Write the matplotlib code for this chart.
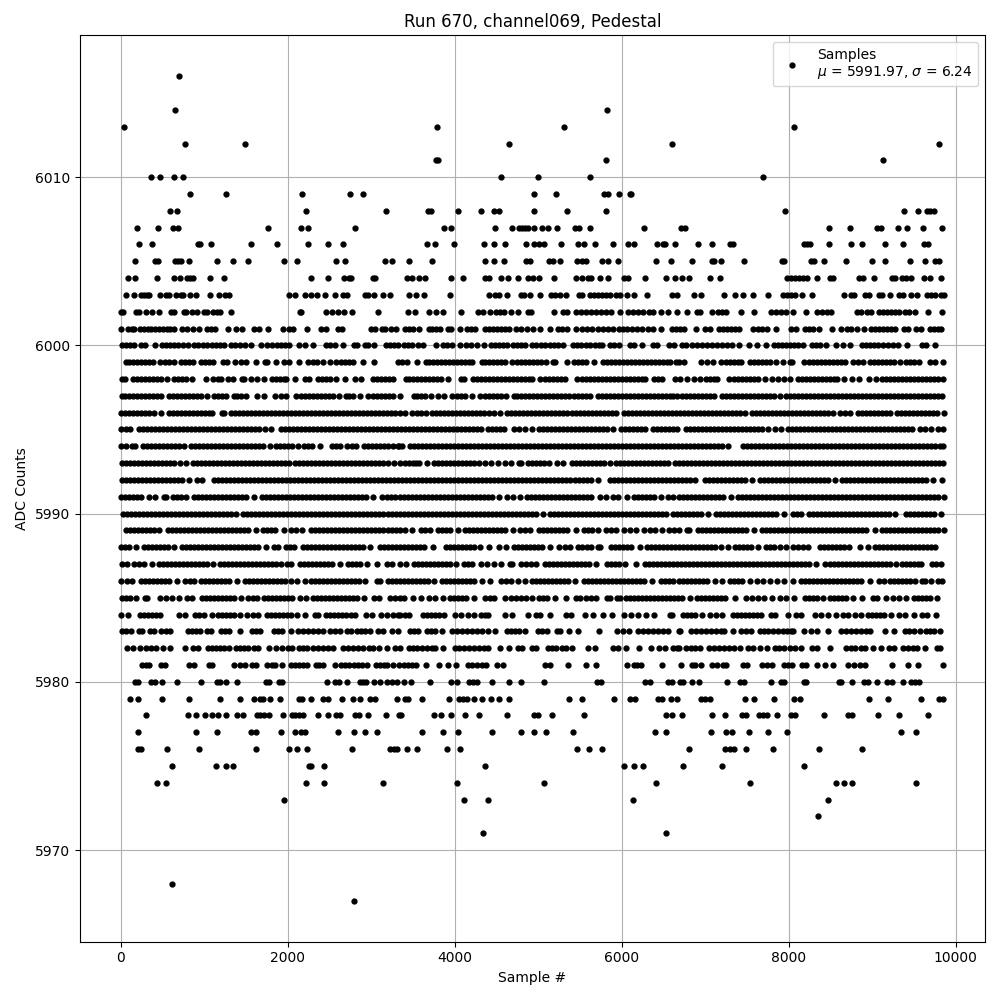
# /usr/bin/env python3

import matplotlib
matplotlib.use('Agg')
import matplotlib.pyplot as plt

# sample numbers, one list per ADC count
s6016 = [704]
s6014 = [656, 5820]
s6013 = [44, 3792, 5316, 8060]
s6012 = [776, 1484, 4656, 6600, 9800]
s6011 = [3780, 3804, 5808, 9128]
s6010 = [368, 476, 644, 752, 4560, 5004, 5616, 7688]
s6009 = [836, 1256, 2168, 2744, 2900, 4956, 5220, 5784, 5832, 5964, 6096, 6108]
s6008 = [596, 680, 2216, 3176, 3684, 3720, 4044, 4320, 4476, 4536, 4956, 5352, 5808, 7952, 9380, 9548, 9656, 9692,
         9740]
s6007 = [200, 452, 632, 692, 1760, 2156, 2240, 2804, 3876, 3960, 4488, 4692, 4776, 4812, 4848, 4884, 4956, 5052, 5124,
         5232, 5436, 5484, 5616, 6264, 6716, 6764, 8480, 8732, 9056, 9104, 9308, 9416, 9608, 9836]
s6006 = [224, 380, 932, 956, 1076, 1556, 1868, 2240, 2480, 2660, 3672, 3768, 3996, 4356, 4476, 4608, 4860, 4956, 5016,
         5076, 5280, 5472, 5544, 5676, 5892, 6080, 6144, 6420, 6492, 6516, 6636, 6920, 7088, 7304, 7340, 8180, 8216,
         8252, 8480, 8744, 8876, 9152, 9368, 9620, 9668]
s6005 = [176, 416, 452, 656, 692, 728, 824, 1148, 1340, 1520, 1952, 2108, 2576, 2684, 3164, 3248, 3456, 3732, 4368,
         4476, 4596, 4860, 4908, 5136, 5184, 5268, 5460, 5520, 5568, 5760, 5832, 5952, 6408, 6588, 6848, 7088, 7112,
         7196, 7472, 7916, 7940, 8264, 8300, 8420, 8684, 8996, 9152, 9452, 9632, 9752, 9800]
s6004 = [92, 176, 440, 644, 716, 800, 836, 872, 1064, 1232, 2276, 2480, 2672, 2732, 2756, 3020, 3044, 3432, 3492, 3576,
         3648, 3960, 4104, 4368, 4416, 4560, 4644, 4764, 4884, 4944, 5016, 5196, 5448, 5520, 5592, 5628, 5736, 5832,
         6024, 6072, 6276, 6528, 6644, 6728, 6812, 7064, 7184, 7976, 8024, 8072, 8120, 8168, 8216, 8336, 8492, 8528,
         8840, 8888, 9020, 9236, 9272, 9356, 9404, 9464, 9620, 9692, 9824]
s6003 = [64, 164, 248, 284, 320, 344, 476, 548, 584, 668, 728, 752, 836, 908, 1064, 1172, 1244, 1292, 2012, 2084, 2204,
         2276, 2348, 2444, 2564, 2660, 2708, 2924, 2960, 3032, 3140, 3224, 3456, 3540, 3636, 3948, 4416, 4488, 4536,
         4632, 4800, 4836, 4908, 5028, 5160, 5208, 5268, 5340, 5484, 5520, 5616, 5664, 5712, 5760, 5808, 5856, 5928,
         5976, 6060, 6144, 6300, 6608, 6668, 6872, 6956, 7232, 7364, 7460, 7580, 7748, 7928, 7976, 8024, 8072, 8156,
         8276, 8660, 8744, 8780, 8912, 8960, 9080, 9116, 9212, 9320, 9368, 9464, 9536, 9656, 9704, 9752, 9824, 9860]
s6002 = [0, 32, 188, 224, 308, 380, 464, 608, 644, 764, 788, 860, 920, 992, 1028, 1100, 1148, 1184, 1316, 2144, 2156,
         2456, 2528, 2600, 2672, 2768, 3080, 3444, 3528, 3696, 3780, 3864, 4080, 4284, 4344, 4428, 4500, 4548, 4596,
         4680, 4764, 4884, 4920, 5196, 5304, 5352, 5448, 5512, 5572, 5632, 5692, 5752, 5812, 5872, 5976, 6072, 6132,
         6192, 6252, 6324, 6372, 6468, 6552, 6668, 6788, 6908, 6944, 7088, 7160, 7208, 7256, 7436, 7592, 7784, 7844,
         7904, 7964, 8048, 8204, 8336, 8396, 8456, 8504, 8816, 8864, 8936, 8984, 9080, 9128, 9176, 9224, 9272, 9320,
         9392, 9440, 9512, 9668, 9836]
s6001 = [8, 92, 140, 164, 236, 284, 332, 368, 416, 464, 512, 560, 596, 644, 740, 800, 872, 944, 1028, 1076, 1124, 1280,
         1376, 1448, 1592, 1652, 1760, 1940, 2012, 2060, 2228, 2396, 2456, 2600, 2648, 2996, 3044, 3128, 3164, 3236,
         3300, 3408, 3456, 3504, 3576, 3696, 3732, 3780, 3828, 3924, 3960, 4068, 4152, 4200, 4248, 4368, 4416, 4464,
         4512, 4560, 4608, 4656, 4740, 4800, 4872, 4944, 5028, 5148, 5244, 5292, 5352, 5448, 5520, 5580, 5640, 5712,
         5772, 5832, 5892, 5964, 6012, 6060, 6120, 6180, 6240, 6312, 6372, 6468, 6608, 6656, 6704, 6752, 6896, 7004,
         7064, 7172, 7220, 7268, 7316, 7364, 7412, 7580, 7628, 7676, 7736, 7844, 8024, 8084, 8192, 8240, 8288, 8360,
         8516, 8624, 8696, 8744, 8816, 8904, 8984, 9032, 9080, 9128, 9176, 9224, 9272, 9380, 9428, 9524, 9584, 9692,
         9740, 9788, 9824]
s6000 = [20, 68, 116, 164, 248, 296, 416, 500, 548, 596, 644, 692, 752, 812, 884, 932, 980, 1028, 1088, 1136, 1184,
         1232, 1316, 1364, 1424, 1484, 1556, 1676, 1748, 1808, 1868, 1916, 1964, 2012, 2132, 2204, 2300, 2456, 2504,
         2564, 2660, 2792, 2828, 2924, 2960, 3032, 3176, 3224, 3272, 3320, 3396, 3444, 3492, 3564, 3624, 3780, 3864,
         3912, 3972, 4068, 4140, 4200, 4272, 4356, 4440, 4488, 4536, 4584, 4632, 4704, 4752, 4800, 4848, 4932, 4980,
         5040, 5088, 5148, 5196, 5244, 5304, 5412, 5460, 5508, 5568, 5616, 5676, 5724, 5760, 5856, 5904, 5964, 6096,
         6144, 6240, 6372, 6420, 6572, 6632, 6728, 6776, 6848, 6908, 6968, 7028, 7088, 7148, 7208, 7268, 7328, 7412,
         7532, 7616, 7724, 7820, 7868, 7916, 7964, 8012, 8060, 8108, 8168, 8276, 8324, 8372, 8444, 8564, 8648, 8732,
         8876, 8924, 8972, 9020, 9068, 9128, 9188, 9248, 9308, 9416, 9596, 9644, 9752]
s5999 = [60, 96, 144, 192, 240, 288, 336, 384, 476, 528, 576, 644, 724, 768, 816, 864, 968, 1008, 1056, 1104, 1228,
         1272, 1372, 1440, 1504, 1616, 1724, 1752, 1856, 1960, 2020, 2140, 2248, 2304, 2352, 2424, 2504, 2584, 2640,
         2688, 2736, 2784, 2900, 3032, 3320, 3370, 3424, 3548, 3656, 3696, 3744, 3792, 3840, 3888, 3936, 3984, 4032,
         4080, 4128, 4176, 4208, 4328, 4368, 4416, 4464, 4512, 4560, 4608, 4688, 4752, 4800, 4848, 4896, 4944, 4992,
         5040, 5096, 5180, 5204, 5344, 5424, 5472, 5520, 5576, 5672, 5776, 5824, 5872, 5920, 5968, 6016, 6064, 6112,
         6160, 6208, 6256, 6304, 6352, 6400, 6448, 6496, 6544, 6584, 6652, 6684, 6752, 6952, 7024, 7100, 7192, 7248,
         7296, 7344, 7392, 7432, 7540, 7584, 7632, 7680, 7728, 7776, 7852, 7928, 8012, 8036, 8188, 8240, 8288, 8336,
         8384, 8432, 8480, 8528, 8576, 8624, 8672, 8776, 8835, 8892, 8980, 9024, 9072, 9120, 9168, 9216, 9264, 9332,
         9412, 9456, 9504, 9564, 9692, 9756, 9848]
s5998 = [16, 48, 148, 192, 240, 288, 336, 384, 432, 480, 556, 640, 688, 736, 784, 856, 1020, 1108, 1160, 1204, 1288,
         1344, 1448, 1480, 1564, 1632, 1712, 1808, 1856, 1904, 1952, 1984, 2084, 2208, 2256, 2368, 2416, 2464, 2512,
         2584, 2684, 2812, 2880, 3024, 3072, 3120, 3168, 3216, 3256, 3416, 3456, 3504, 3552, 3600, 3648, 3696, 3744,
         3792, 3836, 3924, 4076, 4112, 4220, 4272, 4320, 4368, 4416, 4464, 4512, 4560, 4608, 4656, 4704, 4752, 4800,
         4848, 4896, 4928, 5024, 5088, 5136, 5184, 5232, 5280, 5320, 5460, 5520, 5568, 5616, 5664, 5712, 5760, 5808,
         5856, 5904, 5952, 6000, 6048, 6096, 6144, 6192, 6240, 6276, 6392, 6440, 6484, 6640, 6700, 6788, 6872, 6944,
         7008, 7056, 7104, 7144, 7288, 7344, 7392, 7440, 7488, 7536, 7584, 7632, 7712, 7804, 7872, 7940, 8016, 8116,
         8160, 8208, 8256, 8304, 8352, 8400, 8448, 8496, 8544, 8584, 8668, 8764, 8844, 8960, 9052, 9120, 9168, 9216,
         9264, 9312, 9360, 9408, 9456, 9504, 9552, 9600, 9648, 9696, 9744, 9792, 9852]
s5997 = [16, 48, 96, 144, 192, 240, 288, 336, 384, 432, 484, 576, 624, 672, 720, 768, 816, 864, 912, 960, 1036, 1120,
         1168, 1216, 1256, 1352, 1392, 1440, 1496, 1636, 1712, 1848, 1920, 1984, 2100, 2160, 2208, 2256, 2304, 2352,
         2400, 2448, 2496, 2544, 2612, 2696, 2736, 2784, 2864, 2964, 3024, 3072, 3120, 3168, 3216, 3264, 3340, 3512,
         3552, 3600, 3648, 3716, 3800, 3872, 3968, 4032, 4080, 4128, 4208, 4304, 4368, 4416, 4464, 4512, 4560, 4616,
         4712, 4752, 4800, 4848, 4896, 4944, 4992, 5040, 5088, 5136, 5184, 5232, 5280, 5328, 5376, 5424, 5472, 5520,
         5568, 5616, 5720, 5760, 5808, 5856, 5904, 5952, 6000, 6048, 6096, 6144, 6192, 6240, 6288, 6336, 6384, 6432,
         6480, 6528, 6576, 6616, 6668, 6720, 6768, 6816, 6864, 6912, 6960, 7008, 7056, 7112, 7204, 7248, 7296, 7344,
         7392, 7440, 7488, 7536, 7584, 7632, 7680, 7728, 7776, 7820, 7896, 7972, 8016, 8064, 8112, 8160, 8208, 8256,
         8304, 8352, 8400, 8448, 8496, 8544, 8592, 8640, 8688, 8736, 8784, 8832, 8880, 8928, 8976, 9024, 9072, 9120,
         9168, 9216, 9264, 9312, 9360, 9408, 9456, 9504, 9552, 9600, 9648, 9696, 9744, 9792, 9836]
s5996 = [4, 48, 96, 144, 192, 240, 288, 336, 404, 480, 576, 624, 672, 720, 768, 816, 864, 912, 960, 1008, 1056, 1096,
         1208, 1232, 1316, 1364, 1412, 1460, 1508, 1556, 1604, 1652, 1700, 1748, 1796, 1844, 1892, 1940, 1988, 2036,
         2084, 2132, 2180, 2228, 2276, 2324, 2372, 2420, 2468, 2516, 2564, 2612, 2660, 2708, 2756, 2804, 2852, 2900,
         2948, 2996, 3044, 3092, 3140, 3188, 3236, 3284, 3340, 3400, 3488, 3552, 3600, 3656, 3728, 3776, 3824, 3872,
         3920, 3968, 4016, 4064, 4112, 4160, 4208, 4256, 4304, 4352, 4416, 4476, 4548, 4632, 4680, 4728, 4776, 4824,
         4872, 4920, 4968, 5016, 5064, 5112, 5160, 5208, 5256, 5304, 5352, 5400, 5448, 5496, 5544, 5592, 5640, 5688,
         5736, 5784, 5832, 5880, 5936, 6024, 6072, 6120, 6168, 6216, 6264, 6312, 6360, 6408, 6456, 6504, 6552, 6600,
         6648, 6696, 6744, 6792, 6840, 6888, 6936, 6984, 7032, 7080, 7128, 7176, 7224, 7272, 7320, 7368, 7416, 7484,
         7564, 7612, 7660, 7708, 7756, 7804, 7852, 7900, 7948, 7996, 8044, 8092, 8140, 8188, 8236, 8284, 8332, 8380,
         8428, 8476, 8532, 8620, 8680, 8740, 8828, 8876, 8924, 8972, 9020, 9068, 9116, 9164, 9220, 9304, 9352, 9400,
         9448, 9496, 9544, 9592, 9640, 9688, 9736, 9784, 9860]
s5995 = [4, 60, 112, 220, 268, 316, 364, 412, 460, 508, 556, 604, 652, 700, 748, 796, 844, 892, 940, 988, 1036, 1084,
         1132, 1180, 1228, 1276, 1324, 1372, 1420, 1468, 1516, 1564, 1612, 1660, 1724, 1804, 1916, 1964, 2012, 2060,
         2108, 2156, 2204, 2252, 2300, 2348, 2396, 2444, 2492, 2540, 2588, 2636, 2684, 2732, 2780, 2828, 2876, 2924,
         2972, 3020, 3068, 3116, 3164, 3212, 3260, 3308, 3356, 3404, 3452, 3500, 3548, 3596, 3644, 3692, 3740, 3788,
         3836, 3884, 3932, 3980, 4028, 4076, 4124, 4172, 4220, 4268, 4316, 4400, 4448, 4496, 4544, 4592, 4712, 4776,
         4848, 4928, 5012, 5060, 5108, 5156, 5204, 5252, 5300, 5348, 5396, 5444, 5492, 5540, 5588, 5636, 5684, 5732,
         5780, 5828, 5896, 5988, 6036, 6084, 6132, 6180, 6228, 6276, 6380, 6428, 6476, 6524, 6572, 6620, 6660, 6772,
         6820, 6868, 6916, 6964, 7012, 7060, 7108, 7156, 7204, 7252, 7300, 7348, 7396, 7444, 7492, 7540, 7588, 7636,
         7684, 7752, 7840, 7908, 7996, 8044, 8092, 8140, 8188, 8236, 8284, 8332, 8380, 8428, 8476, 8524, 8572, 8620,
         8668, 8716, 8764, 8812, 8860, 8908, 8956, 9004, 9052, 9100, 9148, 9196, 9244, 9292, 9340, 9388, 9436, 9484,
         9580, 9632, 9712, 9796, 9852]
s5994 = [4, 68, 132, 172, 268, 316, 364, 412, 460, 508, 556, 604, 652, 700, 764, 844, 892, 940, 988, 1036, 1084, 1132,
         1180, 1228, 1276, 1324, 1372, 1420, 1468, 1516, 1564, 1612, 1660, 1708, 1784, 1864, 1912, 1960, 2008, 2056,
         2120, 2200, 2248, 2296, 2384, 2536, 2580, 2624, 2716, 2770, 2824, 2916, 2964, 3012, 3060, 3108, 3156, 3204,
         3264, 3320, 3336, 3372, 3460, 3508, 3556, 3604, 3652, 3700, 3748, 3796, 3844, 3892, 3940, 3988, 4036, 4084,
         4132, 4180, 4228, 4276, 4324, 4372, 4420, 4468, 4516, 4564, 4612, 4660, 4708, 4756, 4804, 4852, 4900, 4948,
         4996, 5044, 5092, 5140, 5188, 5236, 5284, 5332, 5380, 5428, 5476, 5524, 5572, 5620, 5668, 5716, 5764, 5812,
         5860, 5908, 5956, 6004, 6052, 6100, 6148, 6196, 6244, 6292, 6340, 6388, 6436, 6484, 6532, 6580, 6628, 6676,
         6724, 6772, 6820, 6868, 6916, 6964, 7012, 7060, 7108, 7156, 7204, 7280, 7456, 7504, 7552, 7600, 7648, 7696,
         7744, 7792, 7840, 7888, 7936, 7984, 8032, 8080, 8128, 8176, 8224, 8272, 8320, 8368, 8416, 8464, 8512, 8560,
         8608, 8656, 8704, 8752, 8800, 8848, 8896, 8944, 8992, 9040, 9088, 9136, 9184, 9232, 9280, 9328, 9376, 9424,
         9472, 9520, 9568, 9616, 9664, 9712, 9760, 9808, 9852]
s5993 = [16, 64, 112, 160, 208, 256, 304, 352, 400, 448, 496, 544, 592, 640, 712, 788, 868, 916, 964, 1012, 1060, 1108,
         1156, 1204, 1252, 1300, 1348, 1396, 1444, 1492, 1540, 1588, 1636, 1684, 1732, 1780, 1828, 1876, 1924, 1972,
         2016, 2092, 2140, 2188, 2236, 2284, 2332, 2380, 2428, 2476, 2524, 2572, 2620, 2668, 2716, 2764, 2812, 2860,
         2908, 2956, 3004, 3052, 3100, 3148, 3196, 3272, 3344, 3400, 3448, 3496, 3540, 3576, 3664, 3748, 3796, 3844,
         3892, 3940, 3988, 4036, 4084, 4132, 4180, 4228, 4296, 4364, 4432, 4520, 4600, 4676, 4768, 4796, 4880, 4928,
         4976, 5024, 5072, 5136, 5228, 5296, 5408, 5456, 5504, 5552, 5600, 5648, 5696, 5744, 5792, 5856, 5936, 5984,
         6032, 6080, 6128, 6176, 6224, 6272, 6320, 6368, 6416, 6464, 6512, 6560, 6636, 6684, 6732, 6780, 6828, 6876,
         6924, 6972, 7020, 7068, 7116, 7164, 7212, 7260, 7308, 7356, 7404, 7452, 7500, 7548, 7596, 7644, 7692, 7740,
         7788, 7836, 7884, 7932, 7980, 8028, 8076, 8124, 8172, 8220, 8268, 8316, 8364, 8412, 8460, 8508, 8556, 8604,
         8652, 8700, 8748, 8796, 8844, 8892, 8940, 8988, 9036, 9084, 9132, 9180, 9228, 9276, 9324, 9372, 9420, 9468,
         9516, 9564, 9612, 9660, 9708, 9756, 9804, 9844]
s5992 = [16, 64, 112, 160, 208, 256, 304, 352, 400, 448, 496, 544, 592, 640, 688, 736, 824, 920, 976, 1116, 1164, 1212,
         1260, 1308, 1356, 1404, 1452, 1500, 1548, 1596, 1644, 1692, 1740, 1788, 1836, 1884, 1932, 1980, 2028, 2076,
         2124, 2172, 2220, 2268, 2316, 2364, 2412, 2460, 2508, 2556, 2604, 2652, 2700, 2748, 2796, 2844, 2892, 2940,
         2988, 3036, 3084, 3132, 3180, 3228, 3276, 3324, 3372, 3420, 3468, 3516, 3564, 3612, 3660, 3708, 3756, 3804,
         3852, 3900, 3948, 3996, 4044, 4092, 4140, 4188, 4236, 4284, 4332, 4380, 4428, 4476, 4524, 4572, 4620, 4668,
         4716, 4764, 4812, 4860, 4908, 4956, 5004, 5052, 5100, 5148, 5196, 5244, 5292, 5340, 5388, 5436, 5484, 5532,
         5580, 5628, 5716, 5860, 5908, 5956, 6004, 6052, 6100, 6148, 6196, 6244, 6292, 6340, 6388, 6436, 6484, 6532,
         6580, 6628, 6676, 6724, 6772, 6820, 6880, 7004, 7052, 7100, 7148, 7196, 7244, 7292, 7340, 7388, 7436, 7484,
         7564, 7652, 7700, 7748, 7796, 7844, 7892, 7940, 7988, 8036, 8084, 8132, 8180, 8228, 8276, 8324, 8372, 8420,
         8468, 8552, 8644, 8692, 8740, 8788, 8836, 8884, 8932, 8980, 9028, 9076, 9124, 9172, 9220, 9268, 9316, 9364,
         9412, 9460, 9508, 9556, 9604, 9652, 9732, 9840]
s5991 = [4, 52, 100, 148, 196, 244, 344, 416, 520, 544, 628, 676, 724, 784, 876, 924, 972, 1020, 1068, 1116, 1164,
         1212, 1260, 1308, 1356, 1404, 1452, 1504, 1592, 1696, 1744, 1792, 1840, 1888, 1936, 1984, 2032, 2080, 2128,
         2176, 2224, 2272, 2320, 2368, 2416, 2464, 2512, 2560, 2608, 2656, 2704, 2752, 2800, 2848, 2896, 2944, 3024,
         3136, 3184, 3232, 3280, 3340, 3388, 3436, 3484, 3532, 3580, 3628, 3676, 3724, 3772, 3820, 3868, 3916, 3964,
         4012, 4060, 4108, 4156, 4204, 4252, 4300, 4348, 4396, 4444, 4536, 4628, 4700, 4784, 4868, 4916, 4964, 5012,
         5060, 5108, 5156, 5204, 5252, 5300, 5348, 5396, 5444, 5492, 5540, 5588, 5636, 5736, 5812, 5892, 5960, 6064,
         6152, 6200, 6248, 6296, 6344, 6392, 6476, 6560, 6620, 6692, 6740, 6788, 6836, 6884, 6932, 6980, 7028, 7076,
         7124, 7172, 7220, 7312, 7396, 7444, 7492, 7540, 7588, 7636, 7684, 7732, 7780, 7828, 7876, 7924, 7972, 8020,
         8068, 8116, 8164, 8212, 8260, 8308, 8356, 8404, 8452, 8500, 8548, 8596, 8644, 8692, 8740, 8788, 8836, 8884,
         8932, 8980, 9028, 9076, 9124, 9172, 9220, 9268, 9316, 9364, 9412, 9460, 9508, 9556, 9604, 9652, 9700, 9748,
         9796, 9860]
s5990 = [28, 76, 124, 172, 220, 268, 316, 364, 412, 460, 508, 556, 604, 652, 700, 748, 796, 844, 892, 940, 988, 1036,
         1084, 1132, 1180, 1228, 1276, 1324, 1384, 1468, 1516, 1564, 1612, 1660, 1708, 1756, 1804, 1852, 1900, 1948,
         1996, 2044, 2092, 2140, 2188, 2236, 2284, 2332, 2380, 2428, 2476, 2524, 2572, 2620, 2668, 2716, 2764, 2812,
         2860, 2908, 2956, 3004, 3052, 3100, 3148, 3196, 3244, 3292, 3340, 3388, 3436, 3484, 3532, 3580, 3628, 3676,
         3724, 3772, 3820, 3868, 3916, 3964, 4012, 4060, 4108, 4156, 4204, 4252, 4300, 4348, 4396, 4444, 4492, 4540,
         4588, 4636, 4684, 4732, 4780, 4828, 4876, 4924, 4972, 5056, 5144, 5192, 5240, 5288, 5336, 5384, 5432, 5480,
         5528, 5576, 5624, 5672, 5720, 5768, 5816, 5864, 5912, 5960, 6008, 6056, 6104, 6152, 6200, 6248, 6296, 6344,
         6392, 6440, 6488, 6536, 6620, 6668, 6716, 6764, 6812, 6860, 6908, 6956, 7040, 7132, 7180, 7228, 7276, 7324,
         7372, 7420, 7468, 7516, 7564, 7612, 7660, 7708, 7756, 7804, 7852, 7948, 8052, 8100, 8152, 8244, 8292, 8340,
         8388, 8436, 8484, 8532, 8580, 8628, 8676, 8724, 8772, 8820, 8868, 8916, 8964, 9012, 9060, 9108, 9156, 9204,
         9272, 9412, 9460, 9508, 9556, 9604, 9652, 9700, 9748, 9820]
s5989 = [64, 112, 160, 208, 256, 304, 352, 400, 464, 568, 616, 664, 712, 760, 808, 856, 904, 952, 1000, 1048, 1096,
         1144, 1192, 1240, 1288, 1336, 1384, 1432, 1480, 1528, 1616, 1708, 1756, 1804, 1852, 1952, 2036, 2100, 2168,
         2284, 2332, 2380, 2428, 2476, 2524, 2572, 2620, 2668, 2716, 2764, 2812, 2860, 2908, 2956, 3004, 3052, 3100,
         3148, 3196, 3244, 3292, 3340, 3400, 3488, 3596, 3650, 3704, 3800, 3848, 3896, 3944, 4040, 4124, 4172, 4220,
         4268, 4316, 4364, 4412, 4460, 4508, 4556, 4604, 4704, 4784, 4840, 4904, 5012, 5060, 5108, 5156, 5204, 5252,
         5300, 5348, 5448, 5552, 5600, 5648, 5720, 5816, 5870, 5928, 6032, 6100, 6168, 6272, 6340, 6400, 6480, 6568,
         6630, 6692, 6784, 6808, 6916, 6964, 7012, 7060, 7108, 7156, 7204, 7252, 7300, 7348, 7396, 7444, 7492, 7588,
         7684, 7732, 7780, 7828, 7876, 7924, 7972, 8020, 8068, 8116, 8164, 8212, 8260, 8308, 8356, 8404, 8452, 8500,
         8548, 8596, 8644, 8692, 8740, 8788, 8836, 8884, 8932, 9032, 9124, 9172, 9220, 9268, 9316, 9364, 9412, 9460,
         9508, 9556, 9604, 9652, 9700, 9748, 9796, 9860]
s5988 = [4, 52, 100, 184, 284, 332, 380, 428, 476, 524, 572, 640, 736, 784, 832, 880, 928, 976, 1024, 1072, 1120, 1168,
         1216, 1264, 1312, 1360, 1408, 1456, 1504, 1552, 1600, 1648, 1744, 1840, 1888, 1976, 2030, 2072, 2188, 2236,
         2284, 2332, 2380, 2428, 2476, 2524, 2572, 2620, 2668, 2716, 2764, 2812, 2860, 2908, 2984, 3104, 3152, 3200,
         3248, 3296, 3340, 3388, 3436, 3484, 3532, 3580, 3628, 3740, 3892, 3940, 3988, 4036, 4084, 4132, 4180, 4228,
         4308, 4416, 4532, 4616, 4712, 4760, 4808, 4856, 4904, 4952, 5000, 5048, 5144, 5252, 5320, 5384, 5472, 5530,
         5590, 5636, 5720, 5744, 5876, 5924, 5972, 6020, 6068, 6116, 6216, 6308, 6356, 6404, 6452, 6500, 6548, 6596,
         6644, 6692, 6740, 6788, 6836, 6884, 6932, 6980, 7028, 7076, 7124, 7192, 7280, 7364, 7412, 7460, 7508, 7556,
         7636, 7724, 7772, 7820, 7892, 7968, 8048, 8110, 8170, 8236, 8380, 8428, 8476, 8524, 8572, 8620, 8668, 8728,
         8852, 8948, 9040, 9088, 9136, 9184, 9232, 9280, 9328, 9376, 9424, 9472, 9520, 9568, 9616, 9664, 9712, 9760]
s5987 = [16, 72, 160, 220, 280, 372, 460, 508, 556, 604, 652, 700, 748, 796, 844, 892, 940, 988, 1036, 1104, 1192,
         1240, 1288, 1336, 1384, 1432, 1480, 1528, 1576, 1624, 1672, 1720, 1768, 1816, 1864, 1924, 1988, 2044, 2148,
         2196, 2244, 2292, 2340, 2388, 2436, 2484, 2532, 2624, 2720, 2768, 2816, 2864, 2956, 3068, 3184, 3244, 3340,
         3416, 3512, 3560, 3608, 3656, 3704, 3752, 3800, 3848, 3896, 3944, 4016, 4112, 4160, 4208, 4316, 4390, 4472,
         4560, 4664, 4688, 4796, 4860, 4920, 4976, 5084, 5132, 5180, 5228, 5276, 5324, 5372, 5420, 5468, 5516, 5564,
         5612, 5696, 5828, 5876, 5924, 5972, 6044, 6168, 6276, 6324, 6372, 6420, 6468, 6516, 6564, 6612, 6660, 6708,
         6756, 6804, 6852, 6900, 6948, 6996, 7044, 7092, 7140, 7188, 7236, 7284, 7332, 7380, 7428, 7476, 7524, 7572,
         7620, 7668, 7716, 7764, 7812, 7860, 7908, 7956, 8004, 8052, 8100, 8148, 8196, 8244, 8324, 8432, 8492, 8540,
         8588, 8636, 8684, 8732, 8780, 8828, 8876, 8924, 8972, 9020, 9068, 9116, 9164, 9212, 9284, 9364, 9412, 9460,
         9508, 9556, 9592, 9716, 9770, 9820]
s5986 = [4, 70, 136, 244, 292, 340, 388, 436, 484, 532, 580, 676, 772, 830, 880, 964, 1012, 1060, 1108, 1156, 1204,
         1252, 1300, 1396, 1492, 1540, 1588, 1636, 1684, 1732, 1780, 1828, 1876, 1924, 1972, 2036, 2108, 2204, 2284,
         2332, 2380, 2428, 2476, 2524, 2572, 2620, 2668, 2716, 2764, 2812, 2860, 2932, 3076, 3112, 3196, 3244, 3292,
         3340, 3388, 3436, 3484, 3532, 3580, 3628, 3676, 3752, 3848, 3896, 3944, 3992, 4040, 4088, 4136, 4184, 4232,
         4328, 4428, 4560, 4620, 4680, 4756, 4844, 4928, 4976, 5024, 5072, 5120, 5168, 5216, 5264, 5312, 5360, 5436,
         5552, 5600, 5648, 5696, 5744, 5792, 5840, 5888, 5936, 5984, 6032, 6080, 6128, 6176, 6224, 6272, 6368, 6476,
         6524, 6572, 6620, 6692, 6740, 6788, 6836, 6884, 6932, 6980, 7028, 7124, 7208, 7300, 7348, 7396, 7444, 7540,
         7616, 7696, 7780, 7860, 7940, 8052, 8152, 8200, 8248, 8296, 8344, 8392, 8440, 8488, 8536, 8584, 8632, 8680,
         8728, 8776, 8824, 8872, 8972, 9088, 9140, 9220, 9268, 9316, 9364, 9412, 9460, 9520, 9596, 9632, 9704, 9788,
         9836]
s5985 = [16, 64, 112, 184, 292, 316, 472, 544, 620, 700, 796, 856, 976, 1024, 1072, 1120, 1168, 1216, 1264, 1312, 1360,
         1444, 1528, 1580, 1636, 1720, 1768, 1816, 1864, 1912, 1960, 2008, 2056, 2144, 2216, 2308, 2356, 2404, 2452,
         2500, 2548, 2596, 2644, 2692, 2740, 2788, 2836, 2912, 3040, 3096, 3228, 3290, 3340, 3392, 3500, 3596, 3692,
         3770, 3856, 3944, 3992, 4040, 4088, 4136, 4236, 4364, 4420, 4472, 4604, 4676, 4732, 4796, 4852, 4932, 5012,
         5060, 5108, 5204, 5336, 5456, 5496, 5576, 5630, 5688, 5828, 5864, 5948, 5976, 6056, 6104, 6152, 6200, 6248,
         6296, 6344, 6392, 6440, 6488, 6536, 6584, 6632, 6680, 6728, 6820, 6904, 6952, 7000, 7048, 7096, 7144, 7192,
         7240, 7360, 7492, 7560, 7630, 7708, 7804, 7892, 7972, 8068, 8200, 8248, 8296, 8344, 8416, 8500, 8548, 8596,
         8644, 8692, 8776, 8876, 9016, 9060, 9172, 9252, 9320, 9412, 9508, 9556, 9604, 9652, 9700, 9784]
s5984 = [8, 92, 232, 280, 328, 376, 424, 472, 700, 772, 888, 944, 1000, 1088, 1168, 1216, 1264, 1312, 1360, 1432, 1516,
         1580, 1648, 1756, 1804, 1852, 1900, 1948, 1996, 2044, 2116, 2212, 2332, 2368, 2464, 2512, 2560, 2608, 2656,
         2704, 2764, 2812, 2944, 3016, 3124, 3190, 3264, 3320, 3344, 3400, 3452, 3616, 3664, 3712, 3760, 3808, 3872,
         4004, 4076, 4164, 4236, 4316, 4360, 4400, 4604, 4688, 4880, 4976, 5024, 5148, 5336, 5396, 5556, 5652, 5772,
         5880, 6032, 6116, 6192, 6288, 6392, 6584, 6608, 6736, 6784, 6832, 6880, 6964, 7060, 7130, 7204, 7336, 7384,
         7432, 7480, 7528, 7576, 7624, 7672, 7792, 7840, 7988, 8092, 8144, 8312, 8384, 8468, 8568, 8648, 8712, 8800,
         8872, 8956, 9004, 9052, 9100, 9148, 9232, 9324, 9400, 9500, 9596, 9664, 9772]
s5983 = [20, 68, 128, 224, 260, 356, 404, 488, 548, 596, 812, 860, 908, 956, 1028, 1076, 1196, 1244, 1292, 1424, 1568,
         1616, 1664, 1832, 1880, 1928, 2036, 2120, 2180, 2240, 2300, 2360, 2420, 2508, 2564, 2624, 2708, 2756, 2828,
         2876, 2924, 2984, 3080, 3140, 3252, 3324, 3468, 3516, 3564, 3672, 3720, 3768, 3852, 3972, 4032, 4092, 4152,
         4212, 4272, 4332, 4404, 4488, 4632, 4680, 4728, 4776, 4848, 5004, 5052, 5112, 5232, 5268, 5376, 5472, 5724,
         5940, 6012, 6084, 6192, 6252, 6312, 6372, 6432, 6492, 6552, 6684, 6700, 6836, 6888, 6948, 7008, 7068, 7128,
         7196, 7232, 7340, 7436, 7496, 7556, 7652, 7700, 7748, 7808, 7868, 7928, 7976, 8024, 8048, 8180, 8264, 8336,
         8468, 8624, 8684, 8744, 8804, 8864, 8924, 8972, 9152, 9260, 9392, 9440, 9500, 9572, 9644, 9692, 9740, 9812]
s5982 = [80, 152, 236, 308, 368, 428, 512, 596, 776, 872, 932, 1040, 1088, 1136, 1184, 1232, 1292, 1376, 1424, 1472,
         1520, 1592, 1640, 1772, 1856, 1928, 2000, 2048, 2132, 2180, 2228, 2300, 2360, 2420, 2480, 2548, 2660, 2720,
         2780, 2840, 2900, 2972, 3020, 3092, 3188, 3288, 3348, 3456, 3504, 3552, 3612, 3672, 3732, 3768, 3864, 4008,
         4056, 4116, 4176, 4236, 4296, 4356, 4404, 4548, 4656, 4764, 4812, 4932, 4980, 5124, 5172, 5220, 5292, 5340,
         5400, 5592, 5676, 5892, 5952, 6048, 6204, 6348, 6444, 6516, 6612, 6660, 6692, 6776, 6836, 6884, 6944, 7052,
         7112, 7172, 7232, 7292, 7352, 7424, 7520, 7580, 7652, 7736, 7832, 7880, 7940, 8012, 8072, 8144, 8276, 8336,
         8500, 8684, 8744, 8792, 8864, 8912, 9008, 9108, 9200, 9260, 9368, 9428, 9488, 9536, 9632, 9776, 9812]
s5981 = [260, 308, 344, 488, 536, 824, 884, 1052, 1088, 1352, 1424, 1484, 1568, 1616, 1748, 1808, 1844, 1936, 2036,
         2084, 2132, 2180, 2228, 2336, 2372, 2420, 2564, 2636, 2684, 2732, 2792, 2840, 2888, 2948, 3056, 3104, 3152,
         3188, 3264, 3336, 3396, 3444, 3492, 3540, 3660, 3812, 3924, 4020, 4164, 4212, 4272, 4332, 4380, 4512, 4584,
         5088, 5148, 5364, 5568, 5688, 6060, 6144, 6180, 6228, 6480, 6716, 6848, 6884, 6956, 7088, 7148, 7220, 7256,
         7460, 7508, 7676, 7736, 7796, 7940, 7988, 8036, 8156, 8204, 8336, 8432, 8528, 8708, 8780, 8852, 8912, 9236,
         9428, 9548, 9848]
s5980 = [176, 212, 368, 416, 500, 680, 968, 1148, 1184, 1260, 1388, 1736, 1772, 1892, 1928, 2468, 2564, 2612, 2708,
         2864, 2900, 2936, 3032, 3104, 3188, 3248, 3312, 3396, 3480, 3704, 3960, 4032, 4176, 4224, 4272, 4452, 4656,
         4800, 5076, 5700, 5748, 6276, 6336, 6552, 6600, 6704, 6740, 6848, 6932, 7268, 7424, 7472, 7784, 7904, 7940,
         8180, 8204, 8600, 8624, 8756, 8900, 8948, 9056, 9176, 9236, 9368, 9464, 9512, 9560]
s5979 = [116, 212, 500, 824, 1184, 1424, 1592, 1664, 1700, 1792, 1904, 2132, 2168, 2276, 2420, 2480, 2648, 2780, 2864,
         2984, 3044, 3312, 3408, 3444, 3612, 3932, 4056, 4104, 4152, 4236, 4332, 4440, 4536, 4656, 5376, 5520, 5904,
         6096, 6156, 6432, 6480, 6596, 6668, 6956, 7004, 7064, 7484, 7592, 7820, 8060, 8132, 8960, 9188, 9584, 9800,
         9848]
s5978 = [308, 812, 908, 1004, 1088, 1160, 1256, 1388, 1460, 1628, 1664, 1712, 1772, 1940, 2048, 2084, 2132, 2180, 2360,
         2480, 2576, 2624, 2804, 2852, 2960, 3176, 3336, 3360, 3756, 3840, 3960, 4128, 4296, 4632, 4956, 5004, 5172,
         5544, 6528, 6600, 6728, 7088, 7244, 7448, 7496, 7640, 7688, 7736, 7856, 8024, 8072, 8420, 8708, 8756, 9068,
         9320, 9668]
s5977 = [212, 908, 1148, 1556, 1616, 1916, 2084, 2156, 2204, 2600, 2792, 2924, 3068, 3612, 3864, 4044, 4452, 4800,
         4956, 5100, 5412, 6396, 6528, 7076, 7256, 7328, 7532, 7748, 7976, 9344, 9524]
s5976 = [212, 248, 560, 944, 1616, 2012, 2108, 2228, 2768, 3224, 3272, 3308, 3432, 3552, 3912, 4068, 5460, 5604, 5760,
         6812, 7244, 7304, 7352, 7496, 7808, 8360, 8876]
s5975 = [620, 1136, 1256, 1340, 2252, 2276, 2432, 4368, 6024, 6144, 6252, 6740, 7208, 8180]
s5974 = [440, 548, 2216, 2432, 3140, 4032, 5076, 6408, 7544, 8564, 8660, 8756, 9524]
s5973 = [1952, 4116, 4404, 6132, 8468]
s5972 = [8348]
s5971 = [4344, 6528]
s5968 = [620]
s5967 = [2792]

adc_levels = [6016, 6014, 6013, 6012, 6011, 6010, 6009, 6008, 6007, 6006, 6005, 6004, 6003, 6002, 6001, 6000, 5999,
              5998, 5997, 5996, 5995, 5994, 5993, 5992, 5991, 5990, 5989, 5988, 5987, 5986, 5985, 5984, 5983, 5982,
              5981, 5980, 5979, 5978, 5977, 5976, 5975, 5974, 5973, 5972, 5971, 5968, 5967]
samples = [s6016, s6014, s6013, s6012, s6011, s6010, s6009, s6008, s6007, s6006, s6005, s6004, s6003, s6002, s6001,
           s6000, s5999, s5998, s5997, s5996, s5995, s5994, s5993, s5992, s5991, s5990, s5989, s5988, s5987, s5986,
           s5985, s5984, s5983, s5982, s5981, s5980, s5979, s5978, s5977, s5976, s5975, s5974, s5973, s5972, s5971,
           s5968, s5967]

x = []
y = []
for adc, row in zip(adc_levels, samples):
    x.extend(row)
    y.extend([adc] * len(row))

# plot
fig, ax = plt.subplots(figsize=(10, 10))
ax.plot(x, y, 'k.', markersize=7, label='Samples\n$\\mu$ = 5991.97, $\\sigma$ = 6.24')
ax.set_xlabel('Sample #')
ax.set_ylabel('ADC Counts')
ax.set_title('Run 670, channel069, Pedestal')
ax.set_xticks([0, 2000, 4000, 6000, 8000, 10000])
ax.set_yticks([5970, 5980, 5990, 6000, 6010])
ax.legend(loc='upper right')
ax.grid(True)
fig.tight_layout()
fig.subplots_adjust(top=0.965)
fig.savefig('out.png', dpi=100)
